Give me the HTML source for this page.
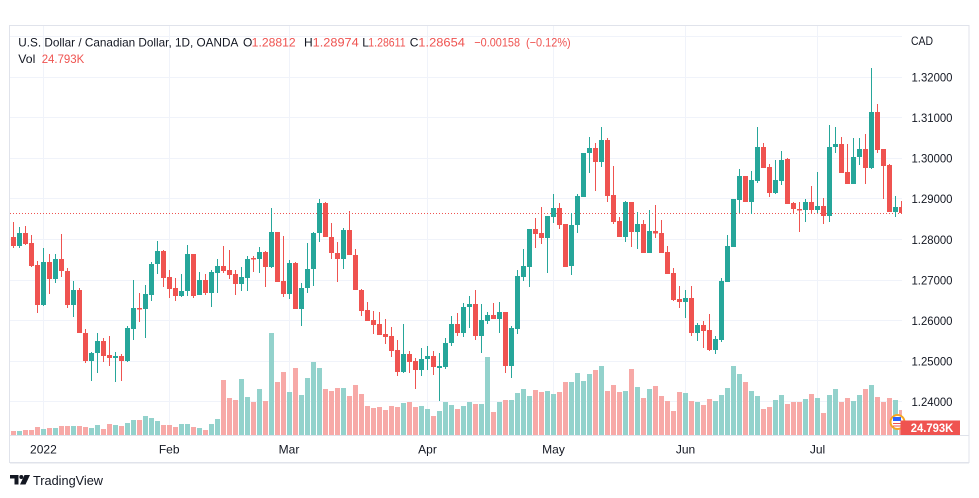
<!DOCTYPE html>
<html><head><meta charset="utf-8"><style>
html,body{margin:0;padding:0;background:#fff;}
svg{display:block;}
text{font-family:"Liberation Sans",sans-serif;}
</style></head><body>
<svg width="979" height="498" viewBox="0 0 979 498" xmlns="http://www.w3.org/2000/svg">
<rect x="0" y="0" width="979" height="498" fill="#fff"/>
<defs><clipPath id="cp"><rect x="10" y="26" width="892" height="409"/></clipPath></defs>
<!-- frame -->
<rect x="9.5" y="25.5" width="959.5" height="437" fill="none" stroke="#e0e3eb" stroke-width="1"/>
<line x1="10" y1="463.5" x2="969" y2="463.5" stroke="#f0f1f4" stroke-width="1"/>
<!-- grid -->
<g stroke="#f0f3fa" stroke-width="1">
<path d="M10 36.5H902M10 77.5H902M10 117.5H902M10 158.5H902M10 198.5H902M10 239.5H902M10 280.5H902M10 320.5H902M10 361.5H902M10 401.5H902"/>
<path d="M43.5 26V435M169.5 26V435M289.5 26V435M427.5 26V435M553.5 26V435M685.5 26V435M817.5 26V435"/>
</g>
<g clip-path="url(#cp)">
<!-- volume -->
<path fill="#93d2cc" d="M17 431H22V435H17ZM41 429H46V435H41ZM53 428H58V435H53ZM71 426H76V435H71ZM89 428H94V435H89ZM95 425H100V435H95ZM113 425H118V435H113ZM125 423H130V435H125ZM131 420H136V435H131ZM143 416H148V435H143ZM149 418H154V435H149ZM155 421H160V435H155ZM179 424H184V435H179ZM185 424H190V435H185ZM197 428H202V435H197ZM209 424H214V435H209ZM215 419H220V435H215ZM239 379H244V435H239ZM245 397H250V435H245ZM257 389H262V435H257ZM269 333H274V435H269ZM287 392H292V435H287ZM299 395H304V435H299ZM305 378H310V435H305ZM311 362H316V435H311ZM317 368H322V435H317ZM341 388H346V435H341ZM401 403H406V435H401ZM419 406H424V435H419ZM425 409H430V435H425ZM437 411H442V435H437ZM443 402H448V435H443ZM449 405H454V435H449ZM461 406H466V435H461ZM467 402H472V435H467ZM479 404H484V435H479ZM485 357H490V435H485ZM497 402H502V435H497ZM509 400H514V435H509ZM515 393H520V435H515ZM521 389H526V435H521ZM527 396H532V435H527ZM545 391H550V435H545ZM551 394H556V435H551ZM569 382H574V435H569ZM575 373H580V435H575ZM581 381H586V435H581ZM587 374H592V435H587ZM599 366H604V435H599ZM623 391H628V435H623ZM635 387H640V435H635ZM647 389H652V435H647ZM683 393H688V435H683ZM695 402H700V435H695ZM713 401H718V435H713ZM719 395H724V435H719ZM725 388H730V435H725ZM731 366H736V435H731ZM737 374H742V435H737ZM749 391H754V435H749ZM755 396H760V435H755ZM773 400H778V435H773ZM779 395H784V435H779ZM803 399H808V435H803ZM815 398H820V435H815ZM827 395H832V435H827ZM833 389H838V435H833ZM851 401H856V435H851ZM857 395H862V435H857ZM869 385H874V435H869ZM893 400H898V435H893Z"/>
<path fill="#f7a9a7" d="M11 431H16V435H11ZM23 430H28V435H23ZM29 430H34V435H29ZM35 427H40V435H35ZM47 428H52V435H47ZM59 426H64V435H59ZM65 426H70V435H65ZM77 426H82V435H77ZM83 427H88V435H83ZM101 429H106V435H101ZM107 424H112V435H107ZM119 426H124V435H119ZM137 420H142V435H137ZM161 425H166V435H161ZM167 425H172V435H167ZM173 427H178V435H173ZM191 427H196V435H191ZM203 430H208V435H203ZM221 380H226V435H221ZM227 398H232V435H227ZM233 400H238V435H233ZM251 402H256V435H251ZM263 401H268V435H263ZM275 382H280V435H275ZM281 372H286V435H281ZM293 368H298V435H293ZM323 389H328V435H323ZM329 391H334V435H329ZM335 388H340V435H335ZM347 396H352V435H347ZM353 385H358V435H353ZM359 394H364V435H359ZM365 406H370V435H365ZM371 408H376V435H371ZM377 407H382V435H377ZM383 410H388V435H383ZM389 406H394V435H389ZM395 407H400V435H395ZM407 402H412V435H407ZM413 407H418V435H413ZM431 416H436V435H431ZM455 409H460V435H455ZM473 404H478V435H473ZM491 412H496V435H491ZM503 400H508V435H503ZM533 390H538V435H533ZM539 392H544V435H539ZM557 392H562V435H557ZM563 382H568V435H563ZM593 370H598V435H593ZM605 391H610V435H605ZM611 385H616V435H611ZM617 392H622V435H617ZM629 369H634V435H629ZM641 398H646V435H641ZM653 386H658V435H653ZM659 396H664V435H659ZM665 401H670V435H665ZM671 411H676V435H671ZM677 392H682V435H677ZM689 401H694V435H689ZM701 405H706V435H701ZM707 399H712V435H707ZM743 382H748V435H743ZM761 409H766V435H761ZM767 407H772V435H767ZM785 404H790V435H785ZM791 402H796V435H791ZM797 402H802V435H797ZM809 394H814V435H809ZM821 413H826V435H821ZM839 402H844V435H839ZM845 398H850V435H845ZM863 389H868V435H863ZM875 397H880V435H875ZM881 402H886V435H881ZM887 398H892V435H887ZM899 410H904V435H899Z"/>
<!-- current price line -->
<line x1="10" y1="213.5" x2="902" y2="213.5" stroke="#ef5350" stroke-width="1" stroke-dasharray="1 2"/>
<!-- wicks -->
<path fill="none" stroke="#26a69a" stroke-width="1" d="M19.5 227V248M43.5 248V306M55.5 254V283M73.5 281V317M91.5 352V381M97.5 333V373M115.5 352V382M127.5 326V362M133.5 280V340M145.5 285V338M151.5 262V301M157.5 241V274M181.5 274V297M187.5 245V296M199.5 272V295M211.5 270V307M217.5 259V293M241.5 267V291M247.5 256V291M259.5 247V273M271.5 208V268M289.5 260V299M301.5 283V326M307.5 243V293M313.5 232V286M319.5 199V242M343.5 228V269M403.5 324V373M421.5 348V376M427.5 346V370M439.5 353V401M445.5 338V369M451.5 316V346M463.5 303V337M469.5 296V328M481.5 304V353M487.5 312V324M499.5 302V333M511.5 326V378M517.5 270V334M523.5 249V281M529.5 229V287M547.5 216V273M553.5 194V223M571.5 213V275M577.5 194V233M583.5 153V197M589.5 137V173M601.5 127V167M625.5 201V242M637.5 212V249M649.5 210V253M685.5 290V318M697.5 323V341M715.5 336V354M721.5 278V342M727.5 235V282M733.5 199V247M739.5 169V213M751.5 171V214M757.5 127V183M775.5 160V194M781.5 151V185M805.5 199V222M817.5 172V213M829.5 125V222M835.5 127V153M853.5 138V184M859.5 138V165M871.5 68V169M895.5 196V217"/>
<path fill="none" stroke="#ef5350" stroke-width="1" d="M13.5 222V248M25.5 226V245M31.5 235V267M37.5 261V313M49.5 254V294M61.5 234V277M67.5 268V308M79.5 288V333M85.5 329V363M103.5 338V362M109.5 336V366M121.5 354V381M139.5 293V322M163.5 250V287M169.5 270V298M175.5 278V301M193.5 254V298M205.5 274V295M223.5 246V273M229.5 250V279M235.5 270V295M253.5 256V272M265.5 251V287M277.5 232V282M283.5 236V297M295.5 262V309M325.5 202V237M331.5 223V259M337.5 242V282M349.5 211V255M355.5 249V290M361.5 289V316M367.5 302V321M373.5 311V334M379.5 312V335M385.5 319V344M391.5 327V357M397.5 340V376M409.5 351V373M415.5 358V389M433.5 351V375M457.5 313V336M475.5 290V340M493.5 303V319M505.5 312V373M535.5 218V248M541.5 207V244M559.5 203V229M565.5 224V267M595.5 143V191M607.5 138V202M613.5 166V224M619.5 217V237M631.5 202V247M643.5 220V253M655.5 205V238M661.5 220V253M667.5 246V274M673.5 268V301M679.5 286V308M691.5 286V336M703.5 321V348M709.5 314V351M745.5 176V202M763.5 143V168M769.5 164V197M787.5 158V204M793.5 202V213M799.5 202V232M811.5 186V214M823.5 198V224M841.5 137V173M847.5 144V184M865.5 134V184M877.5 104V153M883.5 149V199M889.5 164V212M901.5 201V214"/>
<!-- bodies -->
<path fill="#26a69a" d="M17 233H22V246H17ZM41 262H46V305H41ZM53 259H58V279H53ZM71 290H76V305H71ZM89 353H94V361H89ZM95 341H100V353H95ZM113 356H118V358H113ZM125 328H130V361H125ZM131 308H136V329H131ZM143 294H148V309H143ZM149 264H154V295H149ZM155 251H160V264H155ZM179 291H184V296H179ZM185 254H190V291H185ZM197 280H202V295H197ZM209 272H214V293H209ZM215 266H220V273H215ZM239 277H244V284H239ZM245 259H250V278H245ZM257 252H262V259H257ZM269 232H274V267H269ZM287 263H292V294H287ZM299 288H304V309H299ZM305 269H310V288H305ZM311 233H316V269H311ZM317 203H322V233H317ZM341 230H346V259H341ZM401 354H406V372H401ZM419 359H424V370H419ZM425 356H430V359H425ZM437 366H442V368H437ZM443 343H448V367H443ZM449 324H454V343H449ZM461 307H466V333H461ZM467 304H472V307H467ZM479 320H484V336H479ZM485 315H490V321H485ZM497 312H502V319H497ZM509 328H514V366H509ZM515 276H520V329H515ZM521 266H526V277H521ZM527 229H532V267H527ZM545 216H550V238H545ZM551 208H556V217H551ZM569 225H574V266H569ZM575 196H580V225H575ZM581 153H586V197H581ZM587 148H592V153H587ZM599 140H604V162H599ZM623 202H628V237H623ZM635 224H640V232H635ZM647 231H652V253H647ZM683 298H688V302H683ZM695 325H700V333H695ZM713 339H718V350H713ZM719 281H724V340H719ZM725 246H730V282H725ZM731 199H736V247H731ZM737 176H742V200H737ZM749 180H754V202H749ZM755 147H760V181H755ZM773 180H778V193H773ZM779 160H784V181H779ZM803 202H808V210H803ZM815 206H820V210H815ZM827 147H832V216H827ZM833 144H838V147H833ZM851 157H856V184H851ZM857 149H862V157H857ZM869 112H874V168H869ZM893 207H898V212H893Z"/>
<path fill="#ef5350" d="M11 237H16V246H11ZM23 233H28V244H23ZM29 243H34V266H29ZM35 265H40V305H35ZM47 262H52V279H47ZM59 259H64V271H59ZM65 271H70V305H65ZM77 290H82V333H77ZM83 333H88V361H83ZM101 341H106V356H101ZM107 355H112V358H107ZM119 356H124V361H119ZM137 308H142V309.5H137ZM161 251H166V278H161ZM167 277H172V289H167ZM173 288H178V296H173ZM191 254H196V296H191ZM203 280H208V293H203ZM221 266H226V271H221ZM227 270H232V275H227ZM233 274H238V284H233ZM251 258H256V259.5H251ZM263 252H268V267H263ZM275 232H280V282H275ZM281 281H286V294H281ZM293 263H298V309H293ZM323 203H328V237H323ZM329 237H334V253H329ZM335 253H340V259H335ZM347 230H352V255H347ZM353 255H358V290H353ZM359 290H364V311H359ZM365 310H370V321H365ZM371 320H376V325H371ZM377 324H382V335H377ZM383 334H388V337H383ZM389 336H394V351H389ZM395 350H400V372H395ZM407 354H412V362H407ZM413 361H418V370H413ZM431 356H436V367H431ZM455 324H460V333H455ZM473 304H478V336H473ZM491 315H496V319H491ZM503 312H508V366H503ZM533 229H538V234H533ZM539 233H544V238H539ZM557 208H562V225H557ZM563 224H568V267H563ZM593 148H598V162H593ZM605 140H610V196H605ZM611 195H616V222H611ZM617 221H622V237H617ZM629 202H634V232H629ZM641 224H646V253H641ZM653 231H658V233.5H653ZM659 233H664V253H659ZM665 252H670V274H665ZM671 273H676V300H671ZM677 299H682V302H677ZM689 298H694V333H689ZM701 325H706V331H701ZM707 330H712V350H707ZM743 176H748V202H743ZM761 147H766V168H761ZM767 167H772V193H767ZM785 159H790V204H785ZM791 203H796V209H791ZM797 209H802V210.5H797ZM809 202H814V210H809ZM821 206H826V216H821ZM839 144H844V173H839ZM845 172H850V184H845ZM863 149H868V168H863ZM875 112H880V150H875ZM881 149H886V166H881ZM887 165H892V212H887ZM899 207H904V213H899Z"/>
</g>
<!-- time axis separator -->
<line x1="10" y1="435.5" x2="969" y2="435.5" stroke="#e0e3eb" stroke-width="1"/>
<!-- header -->
<g font-size="12" fill="#131722">
<text x="18.3" y="46.5" textLength="220" lengthAdjust="spacingAndGlyphs">U.S. Dollar / Canadian Dollar, 1D, OANDA</text>
<text x="243" y="46.5">O</text>
<text x="251.7" y="46.5" fill="#ef5350" textLength="44" lengthAdjust="spacingAndGlyphs">1.28812</text>
<text x="304" y="46.5">H</text>
<text x="312.7" y="46.5" fill="#ef5350" textLength="46" lengthAdjust="spacingAndGlyphs">1.28974</text>
<text x="362.3" y="46.5">L</text>
<text x="368.3" y="46.5" fill="#ef5350" textLength="37.3" lengthAdjust="spacingAndGlyphs">1.28611</text>
<text x="409.7" y="46.5">C</text>
<text x="418.3" y="46.5" fill="#ef5350" textLength="46.7" lengthAdjust="spacingAndGlyphs">1.28654</text>
<text x="474.3" y="46.5" fill="#ef5350" textLength="45.7" lengthAdjust="spacingAndGlyphs">−0.00158</text>
<text x="526" y="46.5" fill="#ef5350" textLength="44.7" lengthAdjust="spacingAndGlyphs">(−0.12%)</text>
<text x="18.3" y="63" textLength="17" lengthAdjust="spacingAndGlyphs">Vol</text>
<text x="41.7" y="63" fill="#ef5350" textLength="42.6" lengthAdjust="spacingAndGlyphs">24.793K</text>
</g>
<!-- price axis -->
<g font-size="11.5" fill="#131722">
<text x="911" y="45" textLength="22" lengthAdjust="spacingAndGlyphs">CAD</text>
<text x="911.5" y="81.5" textLength="41" lengthAdjust="spacingAndGlyphs">1.32000</text>
<text x="911.5" y="122" textLength="41" lengthAdjust="spacingAndGlyphs">1.31000</text>
<text x="911.5" y="162.5" textLength="41" lengthAdjust="spacingAndGlyphs">1.30000</text>
<text x="911.5" y="203" textLength="41" lengthAdjust="spacingAndGlyphs">1.29000</text>
<text x="911.5" y="244" textLength="41" lengthAdjust="spacingAndGlyphs">1.28000</text>
<text x="911.5" y="284.5" textLength="41" lengthAdjust="spacingAndGlyphs">1.27000</text>
<text x="911.5" y="325" textLength="41" lengthAdjust="spacingAndGlyphs">1.26000</text>
<text x="911.5" y="365.5" textLength="41" lengthAdjust="spacingAndGlyphs">1.25000</text>
<text x="911.5" y="406" textLength="41" lengthAdjust="spacingAndGlyphs">1.24000</text>
</g>
<!-- icon + volume label -->
<circle cx="897.5" cy="422" r="7" fill="#fff" stroke="#f5a623" stroke-width="2"/>
<path d="M893 417h8v4h-8z" fill="#2962ff"/>
<path d="M893 423h9v1h-9zM893 425.5h9v1h-9z" fill="#ef5350"/>
<rect x="900.5" y="420.5" width="59.5" height="14.5" fill="#ef5350"/>
<text x="910.7" y="432" font-size="12" font-weight="bold" fill="#fff" textLength="42.6" lengthAdjust="spacingAndGlyphs">24.793K</text>
<!-- time axis -->
<g font-size="12" fill="#131722" text-anchor="middle">
<text x="43.4" y="453.3">2022</text>
<text x="169.2" y="453.3">Feb</text>
<text x="289" y="453.3">Mar</text>
<text x="427.5" y="453.3">Apr</text>
<text x="553.5" y="453.3">May</text>
<text x="685.5" y="453.3">Jun</text>
<text x="817.5" y="453.3">Jul</text>
</g>
<!-- TradingView logo -->
<g fill="#131722">
<path d="M10 475H18.5V484.5H14.5V478.5H10Z"/>
<circle cx="21.3" cy="477" r="2"/>
<path d="M24.5 475H30L25.5 484.5H20Z"/>
</g>
<text x="33" y="485" font-size="13" fill="#131722" textLength="70" lengthAdjust="spacingAndGlyphs">TradingView</text>
</svg>
</body></html>
